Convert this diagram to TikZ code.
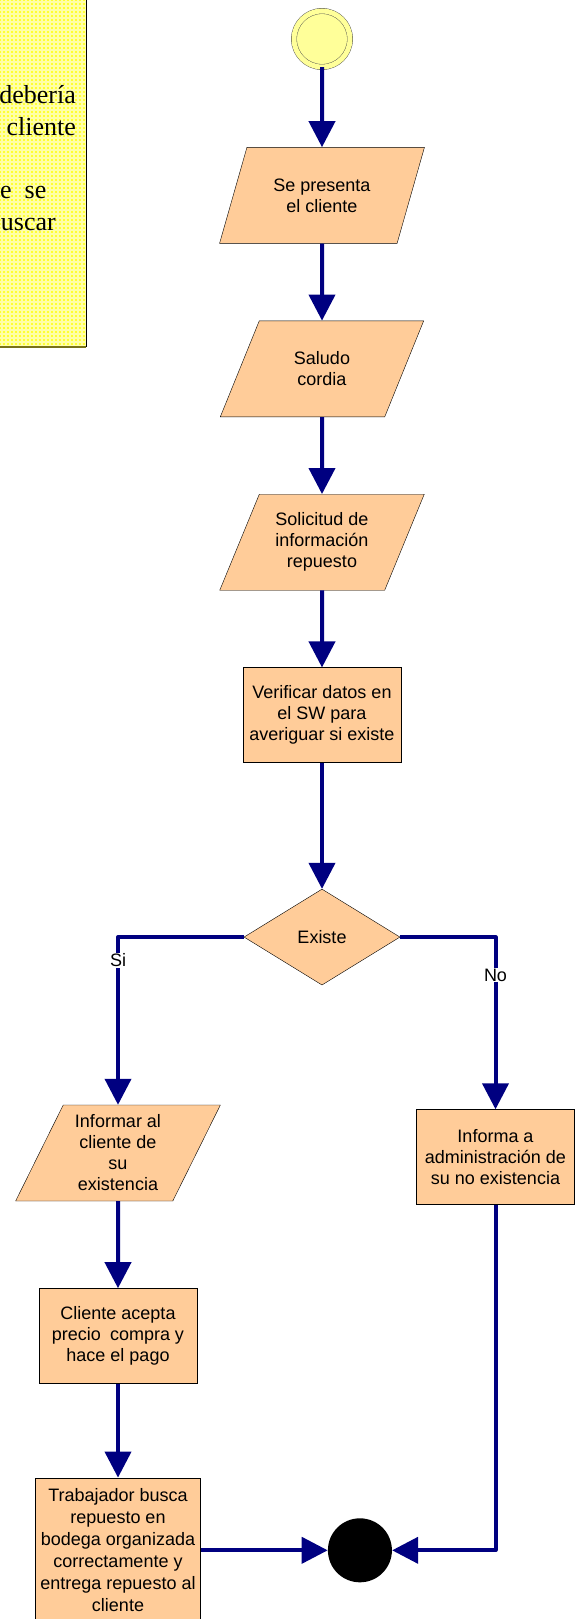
\documentclass[tikz,border=0pt]{standalone}
\usepackage{fontspec}
\setsansfont{Liberation Sans}
\newfontfamily\notafont{Liberation Serif}
\usetikzlibrary{arrows.meta, positioning, shapes.geometric}

\definecolor{durazno}{HTML}{FFCC99}
\definecolor{azulflecha}{HTML}{000080}
\definecolor{amarilloclaro}{HTML}{FFFF99}
\definecolor{amarillonota}{HTML}{FFFF33}
\definecolor{rejilla}{HTML}{FFFFA8}

\begin{document}
\begin{tikzpicture}[
    x=1pt, y=-1pt,
    node distance=77pt,
    every node/.style={font=\sffamily\fontsize{18}{21}\selectfont},
    inicio/.style={circle, draw=black!70, fill=amarilloclaro, double=amarilloclaro, double distance=5pt, minimum size=56pt, inner sep=0pt},
    fin/.style={circle, fill=black, minimum size=64pt, inner sep=0pt},
    proceso/.style={rectangle, draw, fill=durazno, minimum width=158pt, minimum height=95pt, align=center, inner sep=2pt},
    datos/.style={trapezium, trapezium left angle=64, trapezium right angle=116, trapezium stretches=true, draw, fill=durazno, minimum width=205pt, minimum height=96pt, align=center, inner sep=2pt},
    decision/.style={diamond, draw, fill=durazno, minimum width=156pt, minimum height=96pt, aspect=1.6, inner sep=0pt},
    flecha/.style={draw=azulflecha, line width=4pt, line join=round, -{Triangle[width=26pt, length=26pt]}},
    etiqueta/.style={fill=white, inner sep=1pt},
    nota/.style={font=\notafont\fontsize{26}{30}\selectfont, inner sep=0pt},
]
\useasboundingbox (0,0) rectangle (579,1619);

% Nota (cortada en el borde)
\fill[amarillonota] (-5,-5) rectangle (86,347);
\begin{scope}
  \clip (-5,-5) rectangle (86,347);
  \foreach \k in {0,...,21} \draw[rejilla, line width=1.2pt] (4*\k+2,-5) -- (4*\k+2,347);
  \foreach \k in {0,...,87} \draw[rejilla, line width=1.2pt] (-5,4*\k+2) -- (86,4*\k+2);
\end{scope}
\draw[black] (86,-5) -- (86,347);
\draw[olive!80!black, line width=1.5pt] (86,347) -- (-5,347);
\node[nota, anchor=base east] (nota1) at (76,103) {debería};
\node[nota, anchor=base east] (nota2) at (76,135) {cliente};
\node[nota, anchor=base west] (nota3) at (0,198) {e\hspace{13pt}se};
\node[nota, anchor=base east] (nota4) at (56,230) {uscar};

% Flujo principal
\node[inicio] (inicio) at (322,39) {};
\node[datos, below=80pt of inicio] (presenta) {Se presenta\\el cliente};
\node[datos, below=of presenta] (saludo) {Saludo\\cordia};
\node[datos, below=of saludo] (solicitud) {Solicitud de\\información\\repuesto};
\node[proceso, below=of solicitud] (verificar) {Verificar datos en\\el SW para\\averiguar si existe};
\node[decision, below=126pt of verificar] (existe) {Existe};

% Ramas
\node[datos] (informar) at (118,1153) {Informar al\\cliente de\\su\\existencia};
\node[proceso, below=87pt of informar] (acepta) {Cliente acepta\\precio\enspace compra y\\hace el pago};
\node[proceso, below=94pt of acepta, minimum width=165pt, minimum height=145pt,
      font=\sffamily\fontsize{18}{22}\selectfont] (trabajador)
      {Trabajador busca\\repuesto en\\bodega organizada\\correctamente y\\entrega repuesto al\\cliente};
\node[proceso] (noexiste) at (495.5,1157) {Informa a\\administración de\\su no existencia};
\node[fin, right=127pt of trabajador] (fin) {};

% Flechas
\draw[flecha] (inicio) -- (presenta);
\draw[flecha] (presenta) -- (saludo);
\draw[flecha] (saludo) -- (solicitud);
\draw[flecha] (solicitud) -- (verificar);
\draw[flecha] (verificar) -- (existe);
\draw[flecha] (existe.west) -| node[etiqueta, pos=0.57] (si) {Si} (informar.north);
\draw[flecha] (existe.east) -| node[etiqueta, pos=0.61] (no) {No} (noexiste.north);
\draw[flecha] (informar) -- (acepta);
\draw[flecha] (acepta) -- (trabajador);
\draw[flecha] (trabajador.east) -- (fin.west);
\draw[flecha] (noexiste.south) |- (fin.east);

\end{tikzpicture}
\end{document}
